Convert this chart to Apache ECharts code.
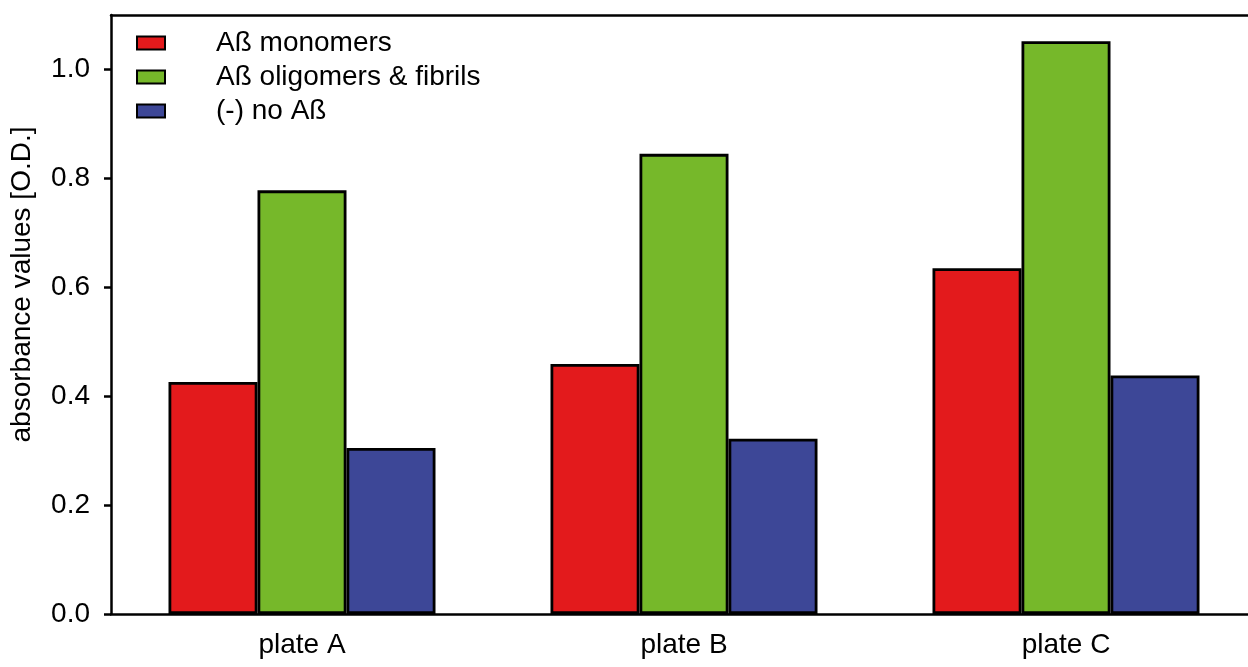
<!DOCTYPE html>
<html><head><meta charset="utf-8">
<script src="https://cdn.jsdelivr.net/npm/echarts@6/dist/echarts.min.js"></script>
<style>html,body{margin:0;padding:0;background:#fff}#c{width:1248px;height:667px}</style>
</head><body><div id="c"></div>
<script>
const categories = ['plate A', 'plate B', 'plate C'];
const seriesNames = ['Aß monomers', 'Aß oligomers & fibrils', '(-) no Aß'];
const monomers = [0.426, 0.459, 0.635];
const oligomers = [0.778, 0.845, 1.052];
const noAb = [0.305, 0.322, 0.438];
const yTicks = [0, 0.2, 0.4, 0.6, 0.8, 1.0];
const colors = ['#E31A1C', '#76B82A', '#3D4797'];

const chart = echarts.init(document.getElementById('c'));
const font = 'Liberation Sans, Arial, sans-serif';
const mk = (name, data, color) => ({
  name, type: 'bar', data, barWidth: 89, barGap: '0%',
  itemStyle: { color, borderColor: '#000', borderWidth: 2.8 }
});
const axisLine = { show: true, lineStyle: { color: '#000', width: 2.5 } };
chart.setOption({
  animation: false,
  textStyle: { fontFamily: font },
  grid: { left: 111, top: 15, width: 1146, height: 599, outerBoundsMode: 'none', containLabel: false, show: false },
  legend: {
    orient: 'vertical', left: 131, top: 24, itemWidth: 28, itemHeight: 13, itemGap: 6,
    icon: 'rect',
    itemStyle: { borderColor: '#000', borderWidth: 2 },
    textStyle: { fontSize: 28, color: '#000', fontFamily: font, padding: [0, 0, 0, 46] },
    data: seriesNames
  },
  xAxis: [{
    type: 'category', data: categories, position: 'bottom',
    axisLine,
    axisTick: { alignWithLabel: true, length: 8, lineStyle: { color: '#000', width: 2.5 } },
    axisLabel: { fontSize: 28, color: '#000', margin: 17, fontFamily: font }
  }, {
    type: 'category', data: categories, position: 'top',
    axisLine, axisTick: { show: false }, axisLabel: { show: false }
  }],
  yAxis: {
    type: 'value', min: 0, max: 1.1, interval: 0.2,
    name: 'absorbance values [O.D.]', nameLocation: 'middle', nameGap: 75,
    nameTextStyle: { fontSize: 28, color: '#000', fontFamily: font, padding: [0, 0, 0, 60] },
    axisLine,
    axisTick: { show: true, length: 7, customValues: yTicks, lineStyle: { color: '#000', width: 2.5 } },
    axisLabel: { fontSize: 28, color: '#000', margin: 21, fontFamily: font, customValues: yTicks,
      formatter: v => v.toFixed(1) },
    splitLine: { show: false }
  },
  series: [mk(seriesNames[0], monomers, colors[0]), mk(seriesNames[1], oligomers, colors[1]), mk(seriesNames[2], noAb, colors[2])]
});
</script></body></html>
